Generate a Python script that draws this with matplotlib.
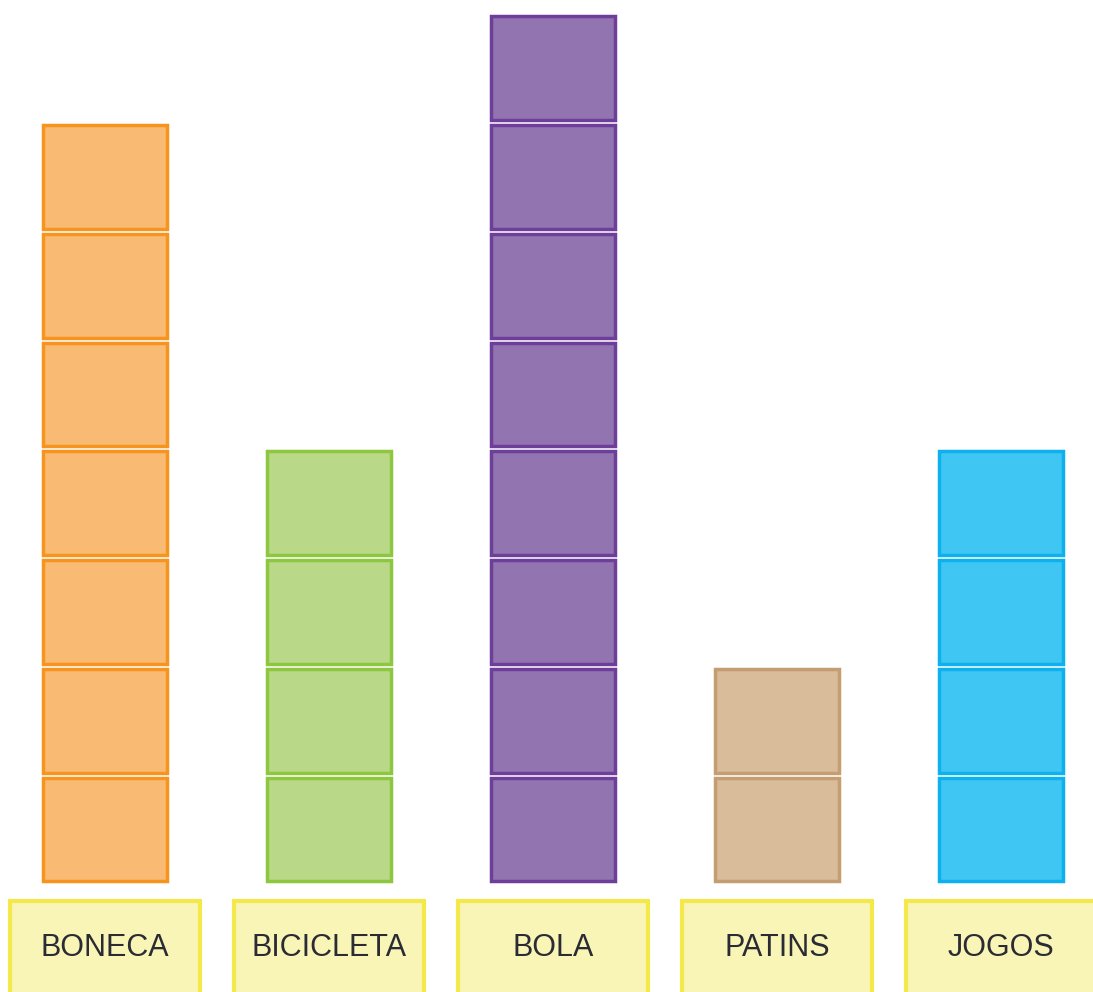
import matplotlib
matplotlib.use("Agg")
import matplotlib.pyplot as plt
from matplotlib.patches import Rectangle

# dados do grafico
categorias = ["BONECA", "BICICLETA", "BOLA", "PATINS", "JOGOS"]
quantidades = [7, 4, 8, 2, 4]
cores = ["#F9BA74", "#B9D989", "#9275B0", "#D9BC9A", "#40C6F2"]
bordas = ["#F7941D", "#8DC63F", "#6E3F9A", "#C49E72", "#0DB1EE"]

fig = plt.figure(figsize=(10.93, 9.92), dpi=100)
ax = fig.add_axes([0, 0, 1, 1])
ax.set_xlim(-0.469, 4.411)
ax.set_ylim(-1.011, 8.11)
ax.axis("off")

larg = 0.55
alt = 0.955
for i, n in enumerate(quantidades):
    for k in range(n):
        ax.bar(i, alt, bottom=k + 0.005, width=larg, color=cores[i],
               edgecolor=bordas[i], linewidth=2.5)
    # caixa amarela com o nome
    ax.add_patch(Rectangle((i - 0.424, -1.3), 0.848, 1.125,
                           facecolor="#F8F5B6", edgecolor="#F3E94A", linewidth=3))
    ax.text(i, -0.607, categorias[i], ha="center", va="center", fontsize=22,
            color="#2b2b33", family=["Liberation Sans", "DejaVu Sans"])

fig.savefig("out.png", dpi=100)
